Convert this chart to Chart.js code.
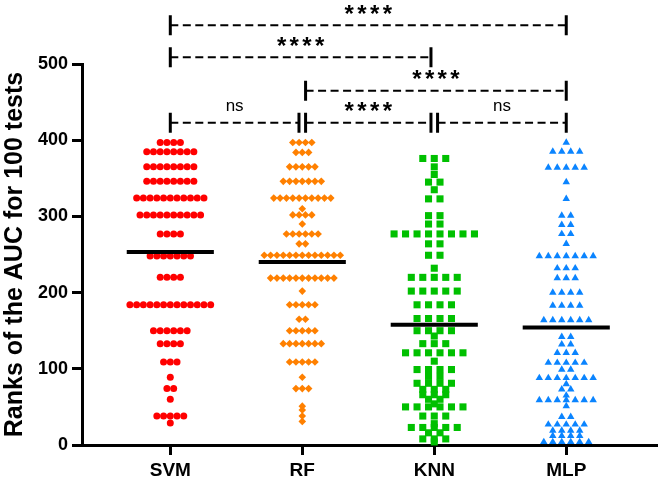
<!DOCTYPE html>
<html>
<head>
<meta charset="utf-8">
<script src="https://cdn.jsdelivr.net/npm/chart.js"></script>
<style>
  html, body { margin: 0; padding: 0; background: #fff; }
  #wrap { width: 661px; height: 482px; position: relative; }
</style>
</head>
<body>
<div id="wrap"><canvas id="ranksChart"></canvas></div>
<script>
// groups on the x axis
const groups = ['SVM', 'RF', 'KNN', 'MLP'];

// ranks of the AUC for the 100 tests (row by row)
const svmRanks = [
  397, 397, 397, 397,
  385, 385, 385, 385, 385, 385, 385, 385,
  365, 365, 365, 365, 365, 365, 365, 365,
  346, 346, 346, 346, 346, 346, 346, 346,
  324, 324, 324, 324, 324, 324, 324, 324, 324, 324, 324,
  302, 302, 302, 302, 302, 302, 302, 302, 302, 302,
  277, 277, 277, 277,
  248, 248, 248, 248, 248, 248, 248,
  220, 220, 220, 220,
  184, 184, 184, 184, 184, 184, 184, 184, 184, 184, 184, 184, 184,
  150, 150, 150, 150, 150, 150,
  133, 133, 133, 133,
  109, 109, 109,
  89, 74, 74, 60,
  38, 38, 38, 38, 38,
  29
];
const rfRanks = [
  397, 397, 397, 397,
  384, 384, 384,
  365, 365, 365, 365, 365,
  346, 346, 346, 346, 346, 346, 346,
  324, 324, 324, 324, 324, 324, 324, 324, 324, 324,
  310,
  302, 302, 302, 302,
  290,
  277, 277, 277, 277, 277, 277,
  264, 264,
  249, 249, 249, 249, 249, 249, 249, 249, 249, 249, 249, 249, 249,
  219, 219, 219, 219, 219, 219, 219, 219, 219, 219, 219,
  202,
  184, 184, 184, 184, 184,
  165, 165,
  150, 150, 150, 150, 150,
  133, 133, 133, 133, 133, 133, 133,
  109, 109, 109, 109, 109,
  89, 74, 74, 74,
  51, 46, 38, 31
];
const knnRanks = [
  376, 376, 376, 365, 355, 345, 345, 335, 323, 323,
  301, 301, 290, 290,
  277, 277, 277, 277, 277, 277, 277, 277,
  264, 264, 249, 249, 232,
  220, 220, 220, 220, 220,
  202, 202, 202, 202, 202,
  184, 184, 184, 184,
  166, 166, 166, 166,
  150, 150, 150, 150,
  143, 133, 133, 133,
  121, 121, 121, 121, 121, 121,
  110, 99, 99, 99, 99, 90, 90,
  81, 81, 81, 81, 73, 73, 73, 66, 66, 66,
  60, 60, 54,
  50, 50, 50, 50, 50, 50,
  38, 38, 38, 28,
  23, 23, 23, 23, 23,
  16, 16, 8, 8, 8, 4
];
const mlpRanks = [
  397, 385, 385, 385, 385,
  364, 364, 364, 364, 364,
  345, 323, 301, 301, 289, 289, 277, 277, 264,
  248, 248, 248, 248, 248, 248, 248,
  232, 232, 232, 219, 219, 219,
  200, 200, 200, 200, 183, 183, 183, 183,
  164, 164, 164, 164, 164, 164,
  142, 142, 132, 132, 121, 121, 121,
  108, 108, 108, 108, 108, 99, 99,
  88, 88, 88, 88, 88, 88, 88,
  80, 73, 73, 65,
  59, 59, 59, 59, 59, 59, 59,
  51, 37, 37,
  27, 27, 27, 27, 27,
  19, 19, 19, 19,
  12, 12, 12, 12,
  4, 4, 4, 4, 4, 4
];
const allRanks = [svmRanks, rfRanks, knnRanks, mlpRanks];

// significance brackets (group numbers 1..4, level on the rank scale)
const bracketFrom = [1, 1, 2, 1, 2, 3];
const bracketTo = [4, 3, 4, 2, 3, 4];
const bracketLevel = [551, 509, 465, 423, 423, 423];
const bracketText = ['****', '****', '****', 'ns', '****', 'ns'];

const groupColors = ['#ff0000', '#ff8000', '#00c000', '#0a84ff'];
const groupShapes = ['circle', 'rectRot', 'rect', 'triangle'];
const groupRadius = [3.5, 3.8, 5, 4.3];
const swarmStep = [0.051, 0.048, 0.087, 0.068];
const FONT = "'Liberation Sans', Arial, sans-serif";

// points with the same rank sit side by side in one row
function swarm(ranks, center, step) {
  const rows = new Map();
  ranks.forEach(r => rows.set(r, (rows.get(r) || 0) + 1));
  const pts = [];
  rows.forEach((n, r) => {
    for (let i = 0; i < n; i++) {
      pts.push({ x: center + (i - (n - 1) / 2) * step, y: r });
    }
  });
  return pts;
}

const mean = a => a.reduce((s, v) => s + v, 0) / a.length;

const datasets = [];
allRanks.forEach((ranks, g) => {
  datasets.push({
    label: groups[g],
    data: swarm(ranks, g + 1, swarmStep[g]),
    pointStyle: groupShapes[g],
    pointRadius: groupRadius[g],
    pointHoverRadius: groupRadius[g],
    backgroundColor: groupColors[g],
    borderColor: groupColors[g],
    borderWidth: 0,
    clip: false,
    order: 1
  });
  const m = mean(ranks);
  datasets.push({
    label: groups[g] + ' mean',
    data: [{ x: g + 1 - 0.33, y: m }, { x: g + 1 + 0.33, y: m }],
    showLine: true,
    borderColor: '#000',
    borderWidth: 4,
    pointRadius: 0,
    clip: false,
    order: 0
  });
});

const bracketPlugin = {
  id: 'brackets',
  afterDraw(chart) {
    const { ctx } = chart;
    const x = chart.scales.x, y = chart.scales.y;
    const inset = g => (g === 2 || g === 3) ? 3.3 : 0;
    ctx.save();
    ctx.strokeStyle = '#000';
    ctx.fillStyle = '#000';
    bracketFrom.forEach((from, i) => {
      const to = bracketTo[i];
      const x0 = x.getPixelForValue(from) + inset(from);
      const x1 = x.getPixelForValue(to) - inset(to);
      const yy = y.getPixelForValue(bracketLevel[i]);
      ctx.setLineDash([8, 4.5]);
      ctx.lineWidth = 2;
      ctx.beginPath();
      ctx.moveTo(x0, yy);
      ctx.lineTo(x1, yy);
      ctx.stroke();
      ctx.setLineDash([]);
      ctx.lineWidth = 3;
      ctx.beginPath();
      ctx.moveTo(x0, yy - 10);
      ctx.lineTo(x0, yy + 10);
      ctx.moveTo(x1, yy - 10);
      ctx.lineTo(x1, yy + 10);
      ctx.stroke();

      // label centred over the bracket, ink centre ~16px above the line
      const mid = (x0 + x1) / 2;
      const cy = yy - 15.7;
      const txt = bracketText[i];
      ctx.textAlign = 'center';
      ctx.textBaseline = 'alphabetic';
      if (txt === 'ns') {
        ctx.font = '17px ' + FONT;
        const m = ctx.measureText(txt);
        const base = cy - (m.actualBoundingBoxDescent - m.actualBoundingBoxAscent) / 2;
        ctx.fillText(txt, mid, base);
      } else {
        ctx.font = 'bold 24px ' + FONT;
        const m = ctx.measureText('*');
        const base = cy - (m.actualBoundingBoxDescent - m.actualBoundingBoxAscent) / 2;
        const stepPx = 12.7;
        for (let k = 0; k < txt.length; k++) {
          ctx.fillText('*', mid + (k - (txt.length - 1) / 2) * stepPx, base);
        }
      }
    });
    ctx.restore();
  }
};

new Chart(document.getElementById('ranksChart'), {
  type: 'scatter',
  data: { datasets },
  plugins: [bracketPlugin],
  options: {
    responsive: true,
    maintainAspectRatio: false,
    animation: false,
    layout: { padding: { top: 64, right: 2, left: 0, bottom: 0 } },
    plugins: {
      legend: { display: false },
      tooltip: { enabled: false }
    },
    scales: {
      x: {
        type: 'linear',
        min: 0.331,
        max: 4.68,
        afterBuildTicks: s => { s.ticks = groups.map((g, i) => ({ value: i + 1 })); },
        afterFit: s => { s.height = 37; },
        ticks: {
          callback: v => groups[v - 1],
          color: '#000',
          font: { family: FONT, size: 19, weight: 'bold' },
          padding: 4,
          maxRotation: 0
        },
        grid: { drawOnChartArea: false, color: '#000', lineWidth: 3, tickLength: 10 },
        border: { color: '#000', width: 3 }
      },
      y: {
        min: 0,
        max: 500,
        afterFit: s => { s.width = 82; },
        ticks: {
          stepSize: 100,
          color: '#000',
          font: { family: FONT, size: 18, weight: 'bold' },
          padding: 4
        },
        grid: { drawOnChartArea: false, color: '#000', lineWidth: 3, tickLength: 10 },
        border: { color: '#000', width: 3 },
        title: {
          display: true,
          text: 'Ranks of the AUC for 100 tests',
          color: '#000',
          font: { family: FONT, size: 25, weight: 'bold' },
          padding: { top: 0, bottom: 0 }
        }
      }
    }
  }
});
</script>
</body>
</html>
